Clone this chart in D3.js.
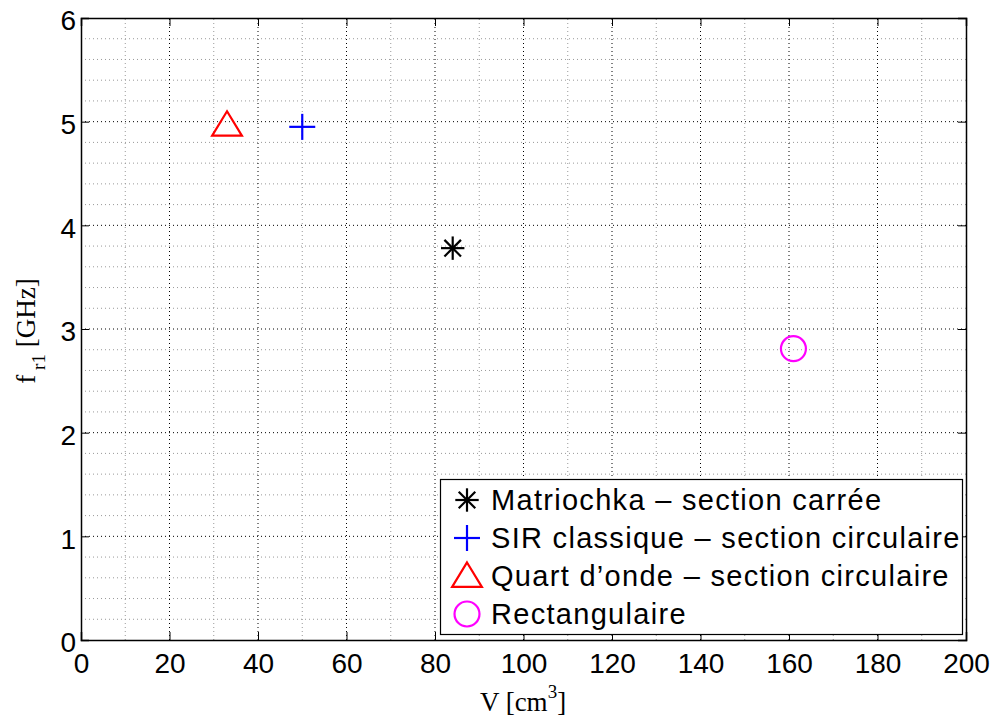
<!DOCTYPE html>
<html>
<head>
<meta charset="utf-8">
<script src="https://cdn.jsdelivr.net/npm/d3@7"></script>
<style>
  body { margin: 0; background: #fff; }
  svg { display: block; }
</style>
</head>
<body>
<script>
// Data
var series_names = ["Matriochka \u2013 section carrée", "SIR classique \u2013 section circulaire", "Quart d\u2019onde \u2013 section circulaire", "Rectangulaire"];
var volume_values = [84, 50, 33, 161];
var freq_values = [3.78, 4.95, 4.97, 2.81];
var marker_types = ["asterisk", "plus", "triangle", "circle"];
var marker_colors = ["#000000", "#0000ff", "#ff0000", "#ff00ff"];
var x_ticks = [0, 20, 40, 60, 80, 100, 120, 140, 160, 180, 200];
var y_ticks = [0, 1, 2, 3, 4, 5, 6];

var width = 995, height = 717;
var margin = {left: 81, right: 29, top: 18, bottom: 77};

var svg = d3.select("body").append("svg")
    .attr("width", width).attr("height", height);

var x = d3.scaleLinear().domain([0, 200]).range([margin.left, width - margin.right]);
var y = d3.scaleLinear().domain([0, 6]).range([height - margin.bottom, margin.top]);

// minor grid
var minor_x = d3.range(10, 200, 20);
var minor_y = d3.range(0, 6, 0.2).filter(function (v) { return Math.abs(v - Math.round(v)) > 0.01; });

svg.append("g").selectAll("line").data(minor_x).enter().append("line")
    .attr("x1", d => x(d)).attr("x2", d => x(d))
    .attr("y1", y(0)).attr("y2", y(6))
    .attr("stroke", "#999").attr("stroke-width", 1).attr("stroke-dasharray", "1,3");
svg.append("g").selectAll("line").data(minor_y).enter().append("line")
    .attr("x1", x(0)).attr("x2", x(200))
    .attr("y1", d => y(d)).attr("y2", d => y(d))
    .attr("stroke", "#999").attr("stroke-width", 1).attr("stroke-dasharray", "1,3");

// major grid
svg.append("g").selectAll("line").data(x_ticks.slice(1, -1)).enter().append("line")
    .attr("x1", d => x(d)).attr("x2", d => x(d))
    .attr("y1", y(0)).attr("y2", y(6))
    .attr("stroke", "#000").attr("stroke-width", 1).attr("stroke-dasharray", "1,3");
svg.append("g").selectAll("line").data(y_ticks.slice(1, -1)).enter().append("line")
    .attr("x1", x(0)).attr("x2", x(200))
    .attr("y1", d => y(d)).attr("y2", d => y(d))
    .attr("stroke", "#000").attr("stroke-width", 1).attr("stroke-dasharray", "1,3");

// axes (ticks inside, like matlab)
var font_ticks = "'Liberation Sans', Arial, sans-serif";
var x_axis = svg.append("g").attr("transform", "translate(0," + y(0) + ")")
    .call(d3.axisBottom(x).tickValues(x_ticks).tickSize(-8).tickFormat(d3.format("d")));
var x_axis_top = svg.append("g").attr("transform", "translate(0," + y(6) + ")")
    .call(d3.axisTop(x).tickValues(x_ticks).tickSize(-8).tickFormat(""));
var y_axis = svg.append("g").attr("transform", "translate(" + x(0) + ",0)")
    .call(d3.axisLeft(y).tickValues(y_ticks).tickSize(-8).tickPadding(5).tickFormat(d3.format("d")));
var y_axis_right = svg.append("g").attr("transform", "translate(" + x(200) + ",0)")
    .call(d3.axisRight(y).tickValues(y_ticks).tickSize(-8).tickFormat(""));

[x_axis, x_axis_top, y_axis, y_axis_right].forEach(function (a) {
    a.select(".domain").attr("stroke", "#000").attr("stroke-width", 1.5);
    a.selectAll(".tick line").attr("stroke", "#000").attr("stroke-width", 1);
    a.selectAll("text").attr("font-family", font_ticks).attr("font-size", "28px").attr("fill", "#000");
});
x_axis.selectAll("text").attr("y", 33).attr("dy", 0);
y_axis.selectAll("text").attr("y", 2).attr("dy", "0.35em");

// axis labels
var font_labels = "'Liberation Serif', 'Times New Roman', serif";
var xl = svg.append("text")
    .attr("x", 523).attr("y", 711)
    .attr("text-anchor", "middle")
    .attr("font-family", font_labels).attr("font-size", "27px").attr("fill", "#000");
xl.append("tspan").text("V [cm");
xl.append("tspan").attr("font-size", "19px").attr("dy", "-13").text("3");
xl.append("tspan").attr("dy", "13").text("]");

var yl = svg.append("text")
    .attr("transform", "translate(35,331) rotate(-90)")
    .attr("text-anchor", "middle")
    .attr("font-family", font_labels).attr("font-size", "27px").attr("fill", "#000");
yl.append("tspan").text("f");
yl.append("tspan").attr("font-size", "19px").attr("dy", "10").text(" r1");
yl.append("tspan").attr("dy", "-10").text(" [GHz]");

// markers
function draw_marker(g, type, color, cx, cy, s) {
    if (type === "asterisk") {
        var r = s * 0.45;
        [0, 45, 90, 135].forEach(function (a) {
            var rad = a * Math.PI / 180;
            g.append("line")
                .attr("x1", cx - r * Math.cos(rad)).attr("y1", cy - r * Math.sin(rad))
                .attr("x2", cx + r * Math.cos(rad)).attr("y2", cy + r * Math.sin(rad))
                .attr("stroke", color).attr("stroke-width", 2.2);
        });
    } else if (type === "plus") {
        var r2 = s * 0.5;
        g.append("line").attr("x1", cx - r2).attr("x2", cx + r2).attr("y1", cy).attr("y2", cy)
            .attr("stroke", color).attr("stroke-width", 2.2);
        g.append("line").attr("x1", cx).attr("x2", cx).attr("y1", cy - r2).attr("y2", cy + r2)
            .attr("stroke", color).attr("stroke-width", 2.2);
    } else if (type === "triangle") {
        var h = s * 0.52;
        g.append("path")
            .attr("d", "M" + cx + "," + (cy - h) + "L" + (cx + h * 1.1) + "," + (cy + h * 0.8) + "L" + (cx - h * 1.1) + "," + (cy + h * 0.8) + "Z")
            .attr("fill", "none").attr("stroke", color).attr("stroke-width", 2.2);
    } else if (type === "circle") {
        g.append("circle").attr("cx", cx).attr("cy", cy).attr("r", s * 0.48)
            .attr("fill", "none").attr("stroke", color).attr("stroke-width", 2.2);
    }
}

var points = svg.append("g");
volume_values.forEach(function (v, i) {
    draw_marker(points, marker_types[i], marker_colors[i], x(v), y(freq_values[i]), 26);
});

// legend
var legend = svg.append("g");
legend.append("rect")
    .attr("x", 440.5).attr("y", 479.5).attr("width", 522).attr("height", 155)
    .attr("fill", "#fff").attr("stroke", "#000").attr("stroke-width", 1.2);
series_names.forEach(function (name, i) {
    var ly = 500 + i * 38;
    draw_marker(legend, marker_types[i], marker_colors[i], 467, ly, 26);
    legend.append("text")
        .attr("x", 491).attr("y", ly).attr("dy", "0.36em")
        .attr("font-family", font_ticks).attr("font-size", "29px")
        .attr("letter-spacing", "1.3px").attr("fill", "#000")
        .text(name);
});
</script>
</body>
</html>
